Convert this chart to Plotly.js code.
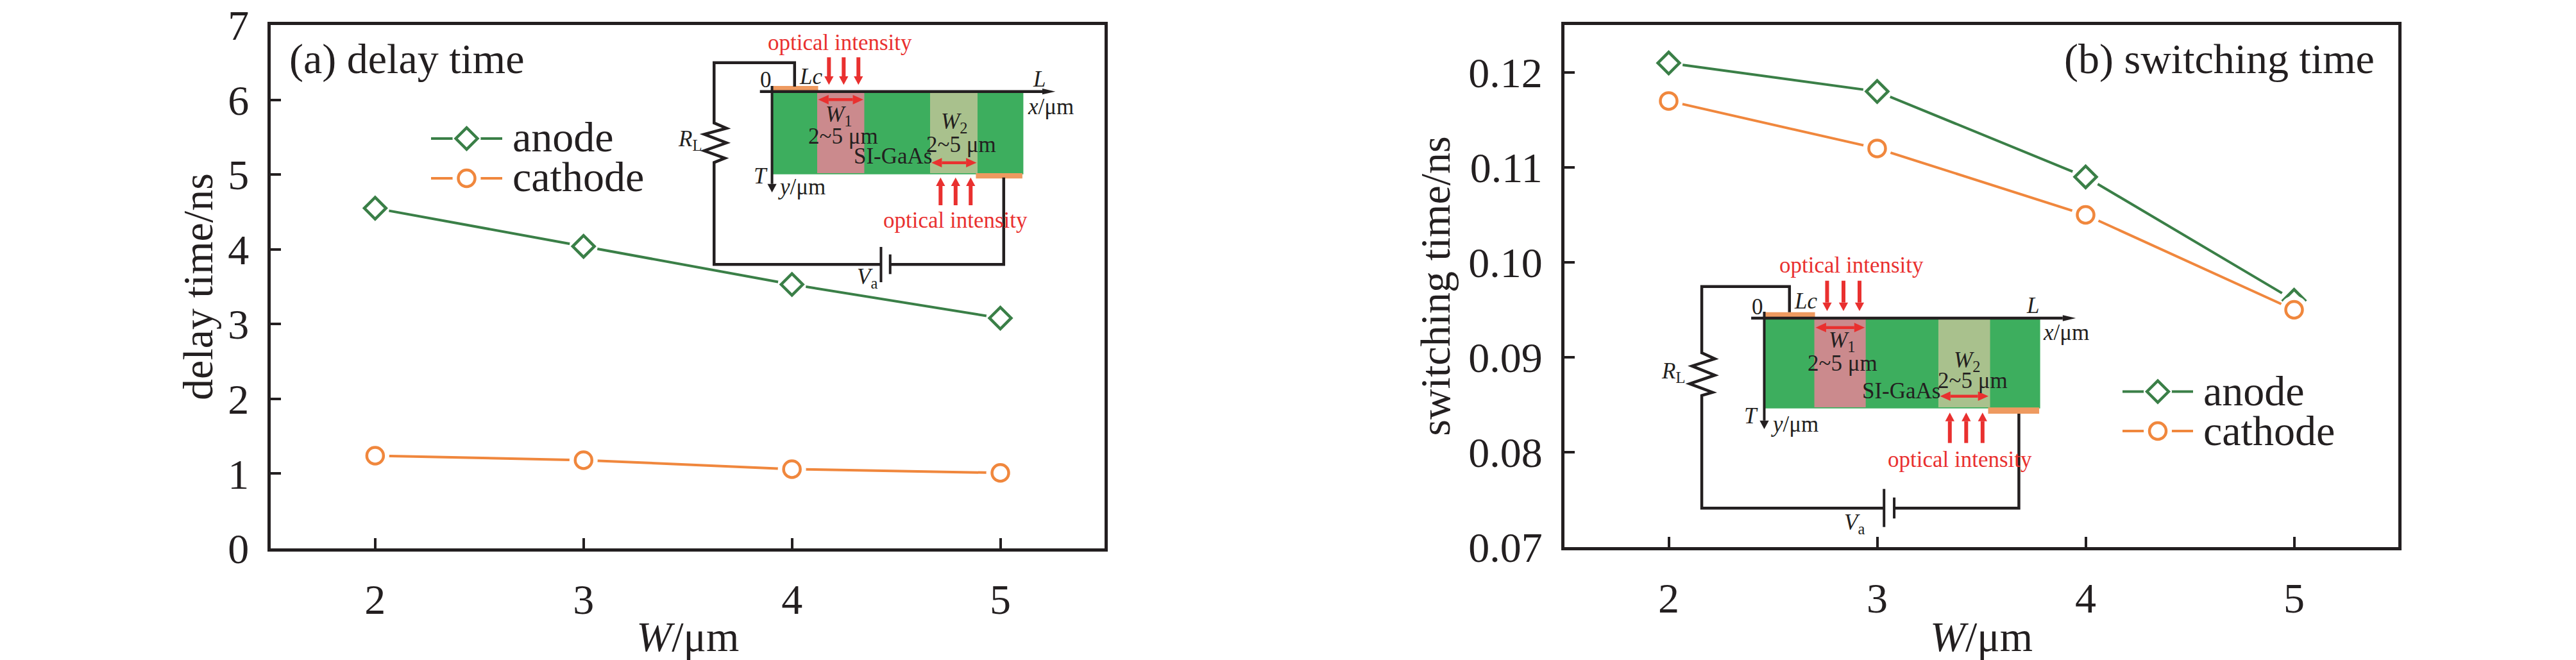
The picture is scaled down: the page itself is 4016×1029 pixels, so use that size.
<!DOCTYPE html>
<html><head><meta charset="utf-8">
<script src="https://cdn.plot.ly/plotly-3.0.1.min.js"></script>
<style>html,body{margin:0;padding:0;background:#fff}</style></head>
<body><div id="chart" style="width:4016px;height:1029px"></div>
<script>
var widths = [2, 3, 4, 5];
var delayAnode = [4.55, 4.04, 3.53, 3.08];
var delayCathode = [1.24, 1.18, 1.06, 1.01];
var switchAnode = [0.121, 0.118, 0.109, 0.096];
var switchCathode = [0.117, 0.112, 0.105, 0.095];
var delayTicks = [0, 1, 2, 3, 4, 5, 6, 7];
var switchTicks = [0.07, 0.08, 0.09, 0.10, 0.11, 0.12];
var widthTicks = [2, 3, 4, 5];
var seriesNames = ['anode', 'cathode'];

var W = 4016, H = 1029;
var INK = '#231F20', GREEN = '#3A7F47', ORANGE = '#F0873D', RED = '#E9302F';
var SERIF = '"Liberation Serif","Times New Roman",serif';
var FS = 66, IFS = 35;

function fx(px){return px / W;}
function fy(py){return 1 - py / H;}

/* marks: line, white halo that opens the line round each marker, hollow marker */
function series(xs, ys, name, color, symbol, size, xa, ya){
  return [
    {x:xs,y:ys,xaxis:xa,yaxis:ya,mode:'lines',name:name,showlegend:false,hoverinfo:'skip',
     line:{color:color,width:4}},
    {x:xs,y:ys,xaxis:xa,yaxis:ya,mode:'markers',name:name,showlegend:false,hoverinfo:'skip',
     marker:{symbol:'circle',size:44,color:'#fff',line:{width:0}}},
    {x:xs,y:ys,xaxis:xa,yaxis:ya,mode:'markers',name:name,showlegend:false,
     marker:{symbol:symbol,size:size,color:'#fff',line:{color:color,width:4.5}}}
  ];
}
function px2x(px, left, right){return 1.5 + 4 * (px - left) / (right - left);}

var A = {left:422.4, right:1722, top:39, bottom:855};
var B = {left:2439, right:3739, top:39, bottom:853};

function legendKey(panel, xa, ya, yval, x0, x1, color, symbol, size, name){
  var xs = [px2x(x0,panel.left,panel.right), px2x((x0+x1)/2,panel.left,panel.right), px2x(x1,panel.left,panel.right)];
  var ys = [yval,yval,yval];
  return [
    {x:xs,y:ys,xaxis:xa,yaxis:ya,mode:'lines',showlegend:false,hoverinfo:'skip',name:name,line:{color:color,width:4}},
    {x:[xs[1]],y:[yval],xaxis:xa,yaxis:ya,mode:'markers',showlegend:false,hoverinfo:'skip',name:name,
     marker:{symbol:'circle',size:44,color:'#fff',line:{width:0}}},
    {x:[xs[1]],y:[yval],xaxis:xa,yaxis:ya,mode:'markers',showlegend:false,hoverinfo:'skip',name:name,
     marker:{symbol:symbol,size:size,color:'#fff',line:{color:color,width:4.5}}}
  ];
}

var traces = [].concat(
  series(widths, delayAnode, seriesNames[0], GREEN, 'diamond', 26, 'x', 'y'),
  series(widths, delayCathode, seriesNames[1], ORANGE, 'circle', 26, 'x', 'y'),
  series(widths, switchAnode, seriesNames[0], GREEN, 'diamond', 26, 'x2', 'y2'),
  series(widths, switchCathode, seriesNames[1], ORANGE, 'circle', 26, 'x2', 'y2'),
  legendKey(A,'x','y',(A.bottom-216)/(A.bottom-A.top)*7,672,783,GREEN,'diamond',26,seriesNames[0]),
  legendKey(A,'x','y',(A.bottom-278)/(A.bottom-A.top)*7,672,783,ORANGE,'circle',26,seriesNames[1]),
  legendKey(B,'x2','y2',0.07+(B.bottom-610.5)/(B.bottom-B.top)*0.055,3309,3419,GREEN,'diamond',26,seriesNames[0]),
  legendKey(B,'x2','y2',0.07+(B.bottom-672)/(B.bottom-B.top)*0.055,3309,3419,ORANGE,'circle',26,seriesNames[1])
);

function xAxis(panel, anchor){
  return {domain:[fx(panel.left),fx(panel.right)],range:[1.5,5.5],anchor:anchor,tickmode:'array',
    tickvals:widthTicks,ticktext:widthTicks.map(String),ticks:'inside',ticklen:16,tickwidth:4,tickcolor:INK,
    showline:true,mirror:true,linecolor:INK,linewidth:5,showgrid:false,zeroline:false,automargin:false,
    ticklabelstandoff:18,tickfont:{family:SERIF,size:FS,color:INK},
    title:{text:'<i>W</i>/μm',font:{family:SERIF,size:FS,color:INK},standoff:2}};
}
function yAxis(panel, anchor, range, ticks, text, fmt, standoff){
  return {domain:[fy(panel.bottom),fy(panel.top)],range:range,anchor:anchor,tickmode:'array',
    tickvals:ticks,ticktext:ticks.map(fmt),ticks:'inside',ticklen:16,tickwidth:4,tickcolor:INK,
    showline:true,mirror:true,linecolor:INK,linewidth:5,showgrid:false,zeroline:false,automargin:false,
    ticklabelstandoff:16,tickfont:{family:SERIF,size:FS,color:INK},
    title:{text:text,font:{family:SERIF,size:FS,color:INK},standoff:standoff}};
}

/* inset schematic, described in reference pixels through a per-panel frame */
function frame(ox, oy){return function(cx, cy){return [fx(ox + cx/1.96), fy(oy + cy/3)];};}
var shapes = [], notes = [];
function pathOf(map, pts, close){
  return pts.map(function(p,i){var q = map(p[0],p[1]);return (i?'L':'M')+q[0]+' '+q[1];}).join(' ')+(close?' Z':'');
}
function fillPoly(map, pts, color){
  shapes.push({type:'path',xref:'paper',yref:'paper',path:pathOf(map,pts,true),fillcolor:color,line:{width:0},layer:'above'});
}
function stroke(map, pts, color, w){
  shapes.push({type:'path',xref:'paper',yref:'paper',path:pathOf(map,pts,false),line:{color:color,width:w},layer:'above'});
}
function rect(map,x0,y0,x1,y1,color){fillPoly(map,[[x0,y0],[x1,y0],[x1,y1],[x0,y1]],color);}
function note(map,cx,cy,text,color,size){
  var q = map(cx,cy);
  notes.push({xref:'paper',yref:'paper',x:q[0],y:q[1],text:text,showarrow:false,xanchor:'center',yanchor:'middle',
    font:{family:SERIF,size:size||IFS,color:color||INK}});
}
function arrowV(map,x,y0,y1,color,w,hw,hl){
  var d = y1>y0?1:-1;
  stroke(map,[[x,y0],[x,y1-d*hl]],color,w);
  fillPoly(map,[[x-hw,y1-d*hl],[x+hw,y1-d*hl],[x,y1]],color);
}
function arrowH(map,x0,x1,y,color,w,hw,hl){
  stroke(map,[[x0,y],[x1-hl,y]],color,w);
  fillPoly(map,[[x1-hl,y-hw],[x1-hl,y+hw],[x1,y]],color);
}
function arrowBoth(map,x0,x1,y,color,w,hw,hl){
  stroke(map,[[x0+hl,y],[x1-hl,y]],color,w);
  fillPoly(map,[[x1-hl,y-hw],[x1-hl,y+hw],[x1,y]],color);
  fillPoly(map,[[x0+hl,y-hw],[x0+hl,y+hw],[x0,y]],color);
}
function inset(o){
  var m = frame(o.ox,o.oy);
  rect(m,o.gx0,o.gy0,o.gx1,o.gy1,'#3DAE5E');
  rect(m,o.w1[0],o.gy0,o.w1[1],o.gy1-5,'#CB8A8D');
  rect(m,o.w2[0],o.gy0,o.w2[1],o.gy1-5,'#A9C18D');
  rect(m,o.top[0],o.top[1],o.top[2],o.top[3],'#EE9A60');
  rect(m,o.bot[0],o.bot[1],o.bot[2],o.bot[3],'#EE9A60');
  arrowH(m,o.xa[0],o.xa[1],o.gy0,INK,4.5,14,40);
  arrowV(m,o.ya[0],o.ya[1],o.ya[2],INK,4,14,40);
  stroke(m,o.wire1,INK,4.5);
  stroke(m,o.wire2,INK,4.5);
  stroke(m,[[o.plate1[0],o.plate1[1]],[o.plate1[0],o.plate1[2]]],INK,4);
  stroke(m,[[o.plate2[0],o.plate2[1]],[o.plate2[0],o.plate2[2]]],INK,4);
  o.down.forEach(function(x){arrowV(m,x,o.downY[0],o.downY[1],RED,6,14,40);});
  o.up.forEach(function(x){arrowV(m,x,o.upY[0],o.upY[1],RED,6,14,40);});
  arrowBoth(m,o.d1[0],o.d1[1],o.d1[2],RED,4.5,22,32);
  arrowBoth(m,o.d2[0],o.d2[1],o.d2[2],RED,4.5,22,32);
  o.text.forEach(function(t){note(m,t[0],t[1],t[2],t[3]);});
}
inset({ox:1000,oy:0,gx0:400,gy0:428,gx1:1167,gy1:815,w1:[537,681],w2:[882,1027],
  top:[400,402,540,428],bot:[1022,810,1164,835],xa:[362,1265],ya:[399,402,900],
  wire1:[[468,405],[468,293],[222,293],[222,575],[260,600],[192,628],[260,668],[192,705],[255,740],[222,760],[222,1237],[732,1237]],
  wire2:[[760,1237],[1107,1237],[1107,830]],plate1:[732,1155,1320],plate2:[760,1190,1282],
  down:[573,618,663],downY:[268,397],up:[914,960,1006],upY:[960,830],d1:[540,678,466],d2:[886,1024,761],
  text:[[607,200,'optical intensity',RED],[960,1030,'optical intensity',RED],[380,375,'0'],[518,358,'<i>Lc</i>'],
    [1215,370,'<i>L</i>'],[1250,500,'<i>x</i>/μm'],[603,540,'<i>W</i><sub>1</sub>'],[617,637,'2~5 μm'],
    [768,730,'SI-GaAs'],[955,575,'<i>W</i><sub>2</sub>'],[977,675,'2~5 μm'],[365,822,'<i>T</i>'],[490,875,'<i>y</i>/μm'],
    [148,655,'<i>R</i><sub>L</sub>'],[690,1300,'<i>V</i><sub>a</sub>']]});
inset({ox:2550,oy:350,gx0:395,gy0:438,gx1:1236,gy1:860,w1:[546,703],w2:[925,1083],
  top:[395,410,548,438],bot:[1077,856,1233,885],xa:[353,1345],ya:[393,408,957],
  wire1:[[470,410],[470,290],[202,290],[202,600],[242,628],[172,662],[242,705],[165,745],[235,785],[202,800],[202,1327],[759,1327]],
  wire2:[[790,1327],[1171,1327],[1171,885]],plate1:[759,1237,1415],plate2:[790,1277,1375],
  down:[585,635,684],downY:[263,405],up:[960,1010,1060],upY:[1022,880],d1:[550,700,482],d2:[930,1078,803],
  text:[[660,190,'optical intensity',RED],[990,1100,'optical intensity',RED],[372,387,'0'],[520,358,'<i>Lc</i>'],
    [1213,378,'<i>L</i>'],[1315,505,'<i>x</i>/μm'],[630,548,'<i>W</i><sub>1</sub>'],[632,648,'2~5 μm'],
    [812,778,'SI-GaAs'],[1012,640,'<i>W</i><sub>2</sub>'],[1030,730,'2~5 μm'],[352,895,'<i>T</i>'],[487,933,'<i>y</i>/μm'],
    [115,692,'<i>R</i><sub>L</sub>'],[668,1400,'<i>V</i><sub>a</sub>']]});

function bigText(px,py,text,anchor){
  notes.push({xref:'paper',yref:'paper',x:fx(px),y:fy(py),text:text,showarrow:false,xanchor:anchor||'left',yanchor:'middle',
    font:{family:SERIF,size:FS,color:INK}});
}
bigText(449,92,'(a) delay time');
bigText(3704,92,'(b) switching time','right');
bigText(797,213,seriesNames[0]);
bigText(797,275,seriesNames[1]);
bigText(3433,609,seriesNames[0]);
bigText(3433,671,seriesNames[1]);

var layout = {width:W,height:H,autosize:false,margin:{l:0,r:0,t:0,b:0,pad:0},
  paper_bgcolor:'#fff',plot_bgcolor:'#fff',showlegend:false,
  xaxis:xAxis(A,'y'),
  yaxis:yAxis(A,'x',[0,7],delayTicks,'delay time/ns',function(v){return String(v);},4),
  xaxis2:xAxis(B,'y2'),
  yaxis2:yAxis(B,'x2',[0.07,0.125],switchTicks,'switching time/ns',function(v){return v.toFixed(2);},9),
  shapes:shapes,annotations:notes};
Plotly.newPlot('chart',traces,layout,{displayModeBar:false,staticPlot:true});
</script></body></html>
